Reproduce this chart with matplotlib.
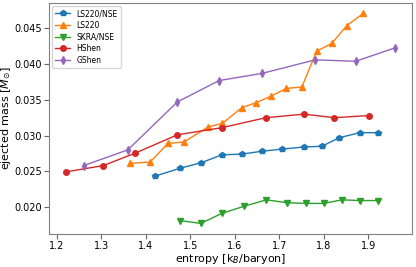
import matplotlib
matplotlib.use("Agg")
import matplotlib.pyplot as plt

# entropy [kB/baryon] and ejected mass [Msun] per EOS
ls220nse_s = [1.420, 1.476, 1.525, 1.571, 1.616, 1.661, 1.706, 1.756, 1.796, 1.835, 1.881, 1.921]
ls220nse_m = [0.0243, 0.0254, 0.0262, 0.0273, 0.0274, 0.0278, 0.0281, 0.0284, 0.0285, 0.0297, 0.0304, 0.0304]

ls220_s = [1.365, 1.410, 1.450, 1.486, 1.540, 1.572, 1.616, 1.648, 1.681, 1.716, 1.751, 1.784, 1.818, 1.852, 1.889]
ls220_m = [0.0261, 0.0263, 0.0289, 0.0291, 0.0312, 0.0317, 0.0339, 0.0346, 0.0355, 0.0366, 0.0368, 0.0418, 0.0429, 0.0454, 0.0471]

skra_s = [1.476, 1.524, 1.571, 1.621, 1.671, 1.717, 1.761, 1.800, 1.841, 1.881, 1.921]
skra_m = [0.0181, 0.0177, 0.0191, 0.0201, 0.0210, 0.0206, 0.0205, 0.0205, 0.0210, 0.0209, 0.0209]

hshen_s = [1.220, 1.305, 1.375, 1.471, 1.571, 1.670, 1.756, 1.824, 1.901]
hshen_m = [0.0249, 0.0258, 0.0275, 0.0301, 0.0311, 0.0325, 0.0330, 0.0325, 0.0328]

gshen_s = [1.261, 1.360, 1.471, 1.565, 1.661, 1.781, 1.872, 1.961]
gshen_m = [0.0258, 0.0280, 0.0347, 0.0377, 0.0387, 0.0406, 0.0404, 0.0423]

fig, ax = plt.subplots(figsize=(4.16, 2.67), dpi=100)
fig.subplots_adjust(left=0.118, right=0.99, top=0.989, bottom=0.124)

ax.plot(ls220nse_s, ls220nse_m, 'p-', color='C0', ms=4, lw=1, label="LS220/NSE")
ax.plot(ls220_s, ls220_m, '^-', color='C1', ms=4, lw=1, label="LS220")
ax.plot(skra_s, skra_m, 'v-', color='C2', ms=4, lw=1, label="SKRA/NSE")
ax.plot(hshen_s, hshen_m, 'o-', color='C3', ms=4, lw=1, label="HShen")
ax.plot(gshen_s, gshen_m, 'd-', color='C4', ms=4, lw=1, label="GShen")

ax.set_xlabel(r"entropy [k$_B$/baryon]", fontsize=8, labelpad=0.5)
ax.set_ylabel(r"ejected mass [$M_{\odot}$]", fontsize=8, labelpad=1)
ax.set_yticks([0.020, 0.025, 0.030, 0.035, 0.040, 0.045])
ax.tick_params(labelsize=7, color='0.4', length=3.5, pad=1.5)
for sp in ax.spines.values():
    sp.set_color('0.5')

ax.legend(loc='upper left', fontsize=5.5, labelspacing=0.35, borderaxespad=0.4)

fig.savefig("out.png", dpi=100)
